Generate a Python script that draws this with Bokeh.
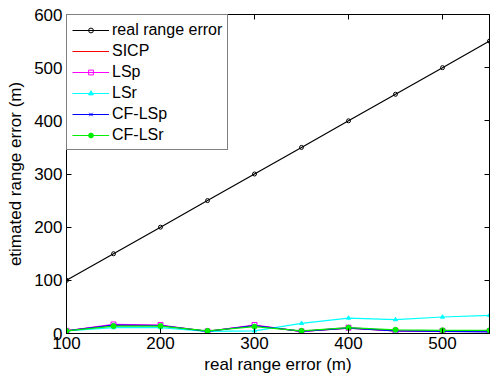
from bokeh.plotting import figure
from bokeh.models import LinearAxis, Range1d, FixedTicker, Legend, CustomJSTickFormatter
from bokeh.embed import file_html
from bokeh.resources import INLINE

x = [100, 150, 200, 250, 300, 350, 400, 450, 500, 550]
real = [100, 150, 200, 250, 300, 350, 400, 450, 500, 550]
sicp = [5, 16, 15, 4, 15, 4, 10, 5, 4, 4]
lsp = [5, 17, 16, 4, 16, 4, 11, 5, 5, 4]
lsr = [5, 11, 11, 4, 5, 19, 29, 26, 31, 34]
cflsp = [5, 16, 15, 4, 15, 4, 10, 5, 4, 3]
cflsr = [5, 14, 14, 5, 13, 5, 11, 7, 6, 6]

xticks = [100, 200, 300, 400, 500]
yticks = [0, 100, 200, 300, 400, 500, 600]

FONT = "Liberation Sans"

p = figure(width=490, height=382, output_backend="svg", toolbar_location=None,
           x_range=Range1d(100, 550), y_range=Range1d(0, 600),
           min_border_left=66, min_border_right=1, min_border_top=14, min_border_bottom=49,
           x_axis_label="real range error (m)", y_axis_label="etimated range error (m)")
p.xgrid.visible = False
p.ygrid.visible = False
p.outline_line_color = "black"
p.outline_line_width = 1
p.background_fill_color = "white"
p.border_fill_color = "white"

for ax in [p.xaxis[0], p.yaxis[0]]:
    ax.major_tick_in = 5
    ax.major_tick_out = 0
    ax.minor_tick_in = 0
    ax.minor_tick_out = 0
    ax.axis_line_color = "black"
    ax.major_tick_line_color = "black"
    ax.major_label_text_font = FONT
    ax.major_label_text_font_size = "17px"
    ax.major_label_text_color = "black"
    ax.axis_label_text_font = FONT
    ax.axis_label_text_font_size = "17px"
    ax.axis_label_text_font_style = "normal"
    ax.axis_label_text_color = "black"
p.xaxis[0].ticker = FixedTicker(ticks=xticks)
p.yaxis[0].ticker = FixedTicker(ticks=yticks)
p.xaxis[0].major_label_standoff = 3
p.yaxis[0].major_label_standoff = 4
p.xaxis[0].axis_label_standoff = 3
p.yaxis[0].axis_label_standoff = 6

blank = CustomJSTickFormatter(code="return '';")
top = LinearAxis(ticker=FixedTicker(ticks=xticks), formatter=blank,
                 major_tick_in=5, major_tick_out=0, minor_tick_in=0, minor_tick_out=0,
                 major_label_standoff=0)
right = LinearAxis(ticker=FixedTicker(ticks=yticks), formatter=blank,
                   major_tick_in=5, major_tick_out=0, minor_tick_in=0, minor_tick_out=0,
                   major_label_standoff=0)
p.add_layout(top, "above")
p.add_layout(right, "right")

series = [
    ("real range error", real, "black", "circle", False, 4),
    ("SICP", sicp, "red", "dot", True, 8),
    ("LSp", lsp, "magenta", "square", False, 5),
    ("LSr", lsr, "cyan", "triangle", True, 4),
    ("CF-LSp", cflsp, "blue", "x", False, 5),
    ("CF-LSr", cflsr, "#00ee00", "circle", True, 5),
]
items = []
for name, ys, col, mk, filled, sz in series:
    r1 = p.line(x, ys, line_color=col, line_width=1.2)
    r2 = p.scatter(x, ys, marker=mk, size=sz, line_color=col,
                   fill_color=col if filled else None, line_width=1)
    items.append((name, [r1, r2]))

legend = Legend(items=items, location="top_left")
legend.label_text_font = FONT
legend.label_text_font_size = "16px"
legend.label_text_color = "black"
legend.border_line_color = "black"
legend.border_line_width = 1
legend.background_fill_alpha = 1
legend.glyph_width = 37
legend.glyph_height = 12
legend.label_height = 19
legend.spacing = 2
legend.padding = 5
legend.margin = 0
legend.label_standoff = 3
p.add_layout(legend)

open("out.html", "w").write(file_html(p, INLINE))
